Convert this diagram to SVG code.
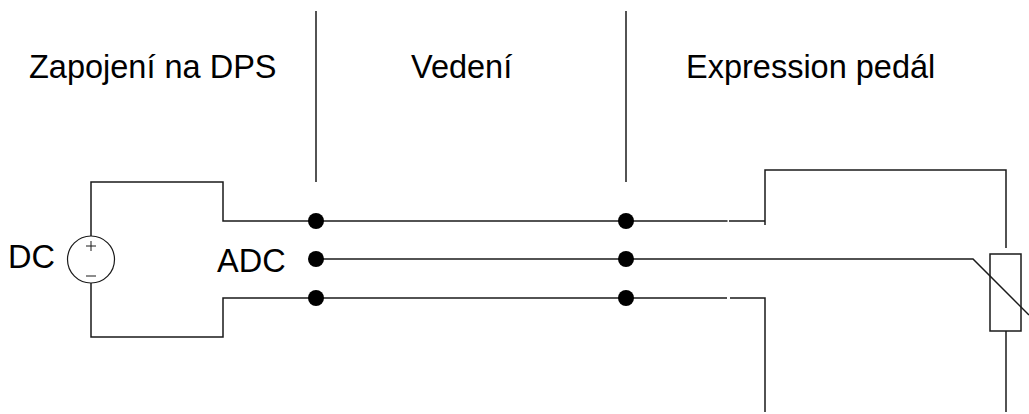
<svg xmlns="http://www.w3.org/2000/svg" width="1029" height="414" viewBox="0 0 1029 414">
<style>
.w{fill:none;stroke:#1a1a1a;stroke-width:1.500}
.t{font-family:"Liberation Sans",Arial,sans-serif;font-size:32.500px;fill:#000}
.d{fill:#000}
</style>
<rect width="1029" height="414" fill="#fff"/>
<g id="connectors">
<path class="w" d="M316 11V182"/>
<path class="w" d="M626 11V182"/>
<path class="w" d="M91 236V182H223V221H316"/>
<path class="w" d="M91 283V337H223V298H316"/>
<path class="w" d="M316 221H626"/>
<path class="w" d="M316 259H626"/>
<path class="w" d="M316 298H626"/>
<path class="w" d="M626 221H727.500M729 221H765V225M765 221V170H1006V248"/>
<path class="w" d="M626 259H973L1029 315"/>
<path class="w" d="M626 298H727M730 298H765V412"/>
<path class="w" d="M1006 331V412"/>
</g>
<g id="label-dps"><text class="t" x="29" y="78">Zapojení na DPS</text></g>
<g id="label-vedeni"><text class="t" x="411" y="78">Vedení</text></g>
<g id="label-pedal"><text class="t" x="686" y="78">Expression pedál</text></g>
<g id="dc-source">
<circle cx="91" cy="259.500" r="23.500" fill="#fff" stroke="#1a1a1a" stroke-width="1.200"/>
<path class="w" style="stroke-width:1" d="M86 246H96M91 241V251M86 276H96"/>
<text class="t" x="8" y="268">DC</text>
</g>
<g id="adc"><text class="t" x="217" y="272">ADC</text></g>
<g id="nodes-left">
<circle class="d" cx="316" cy="221" r="8"/><circle class="d" cx="316" cy="259" r="8"/><circle class="d" cx="316" cy="298" r="8"/>
</g>
<g id="nodes-right">
<circle class="d" cx="626" cy="221" r="8"/><circle class="d" cx="626" cy="259" r="8"/><circle class="d" cx="626" cy="298" r="8"/>
</g>
<g id="potentiometer">
<rect class="w" x="990" y="254" width="31" height="77"/>
</g>
</svg>
